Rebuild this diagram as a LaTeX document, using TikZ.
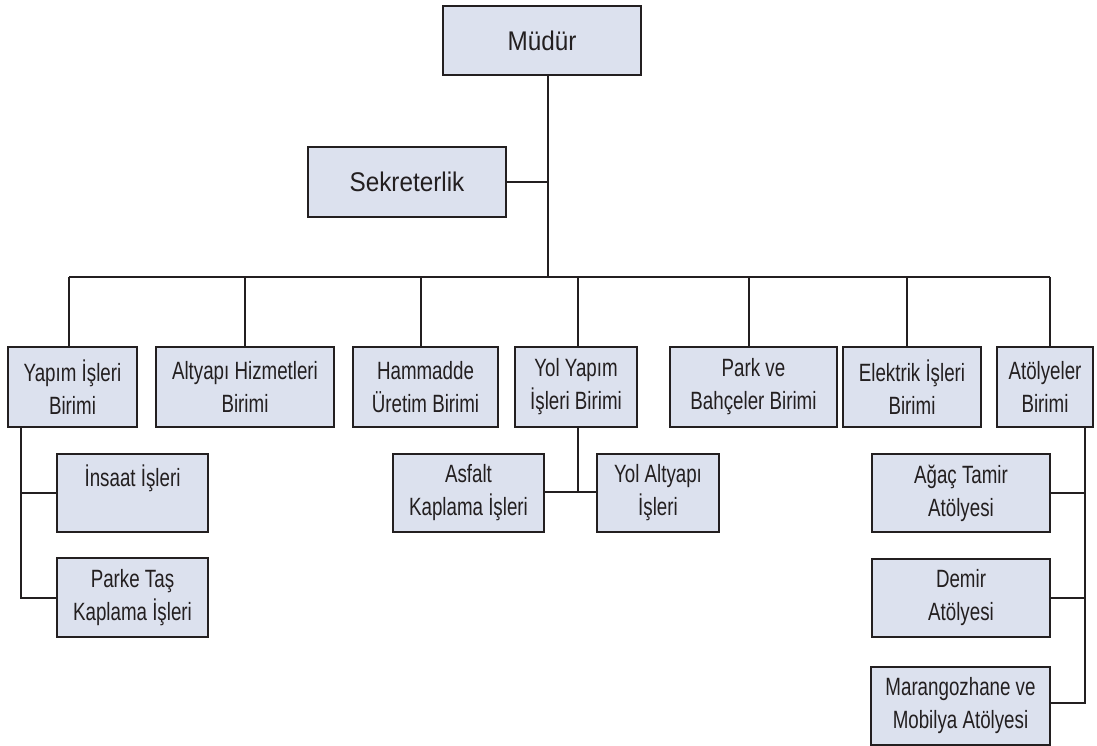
\documentclass[tikz,border=0pt]{standalone}
\usepackage{fontspec}
\setmainfont{Liberation Sans}
\newfontfamily\condfont[FakeStretch=0.75]{Liberation Sans}
\newfontfamily\topfont[FakeStretch=0.9]{Liberation Sans}
\definecolor{boxfill}{HTML}{DCE1EE}
\definecolor{boxline}{HTML}{231F20}
\begin{document}
\begin{tikzpicture}[x=1pt,y=-1pt,
  orgbox/.style={draw=boxline, line width=2pt, fill=boxfill, inner sep=0pt, align=center,
    text=boxline, font=\condfont\fontsize{25}{33}\selectfont},
  topbox/.style={orgbox, font=\topfont\fontsize{27}{33}\selectfont},
  link/.style={draw=boxline, line width=2pt}]
\useasboundingbox (0,0) rectangle (1097,746);
% top level
\node[topbox, minimum width=198pt, minimum height=69pt] (mudur) at (542,40.5) {Müdür};
\node[topbox, minimum width=198pt, minimum height=70pt] (sekr) at (407,182) {Sekreterlik};
% units
\node[orgbox, minimum width=129pt, minimum height=80pt] (yapim) at (72.5,387) {Yapım İşleri\\Birimi};
\node[orgbox, minimum width=178pt, minimum height=80pt] (altyapi) at (245,387) {Altyapı Hizmetleri\\Birimi};
\node[orgbox, minimum width=145pt, minimum height=80pt] (hammadde) at (425.5,387) {Hammadde\\Üretim Birimi};
\node[orgbox, minimum width=122pt, minimum height=80pt] (yolyapim) at (576,387) {Yol Yapım\\İşleri Birimi};
\node[orgbox, minimum width=167pt, minimum height=80pt] (park) at (753.5,387) {Park ve\\Bahçeler Birimi};
\node[orgbox, minimum width=138pt, minimum height=80pt] (elektrik) at (912,387) {Elektrik İşleri\\Birimi};
\node[orgbox, minimum width=96pt, minimum height=80pt] (atolye) at (1045,387) {Atölyeler\\Birimi};
% sub units
\node[orgbox, minimum width=151pt, minimum height=78pt] (insaat) at (132.5,493) {};
\node[font=\condfont\fontsize{25}{33}\selectfont, text=boxline, anchor=center] (insaattxt) at (132.5,478) {İnsaat İşleri};
\node[orgbox, minimum width=151pt, minimum height=79pt] (parke) at (132.5,597.5) {Parke Taş\\Kaplama İşleri};
\node[orgbox, minimum width=151pt, minimum height=78pt] (asfalt) at (468.5,493) {Asfalt\\Kaplama İşleri};
\node[orgbox, minimum width=122pt, minimum height=78pt] (yolalt) at (658,493) {Yol Altyapı\\İşleri};
\node[orgbox, minimum width=178pt, minimum height=78pt] (agac) at (961,493) {Ağaç Tamir\\Atölyesi};
\node[orgbox, minimum width=178pt, minimum height=78pt] (demir) at (961,598) {Demir\\Atölyesi};
\node[orgbox, minimum width=179pt, minimum height=78pt] (marangoz) at (960.5,706) {Marangozhane ve\\Mobilya Atölyesi};
% bus coordinates
\coordinate (busC) at (548,277);
\coordinate (busL) at (69,277);
\coordinate (busR) at (1050,277);
\coordinate (yapimV) at (21,427);
\coordinate (atolyeV) at (1085,427);
\coordinate (yolV) at (578,427);
% connectors
\draw[link] ([xshift=6pt]mudur.south) -- ([xshift=6pt]mudur.south |- busC);
\draw[link] (sekr.east) -- (sekr.east -| busC);
\draw[link] (busL) -- (busR);
\draw[link] (busL) -- (yapim.north -| busL);
\draw[link] (altyapi.north) -- (altyapi.north |- busL);
\draw[link] ([xshift=-4.5pt]hammadde.north) -- ([xshift=-4.5pt]hammadde.north |- busL);
\draw[link] ([xshift=2pt]yolyapim.north) -- ([xshift=2pt]yolyapim.north |- busL);
\draw[link] ([xshift=-4.5pt]park.north) -- ([xshift=-4.5pt]park.north |- busL);
\draw[link] ([xshift=-5pt]elektrik.north) -- ([xshift=-5pt]elektrik.north |- busL);
\draw[link] (busR) -- (atolye.north -| busR);
% Yapim sub
\draw[link] (yapim.south -| yapimV) -- (parke.west -| yapimV) -- (parke.west);
\draw[link] (insaat.west -| yapimV) -- (insaat.west);
% Yol sub
\draw[link] (yolyapim.south -| yolV) -- ([yshift=1pt]asfalt.east -| yolV);
\draw[link] ([yshift=1pt]asfalt.east) -- ([yshift=1pt]yolalt.west);
% Atolye sub
\draw[link] (atolye.south -| atolyeV) -- ([yshift=3pt]marangoz.east -| atolyeV) -- ([yshift=3pt]marangoz.east);
\draw[link] (agac.east) -- (agac.east -| atolyeV);
\draw[link] (demir.east) -- (demir.east -| atolyeV);
\end{tikzpicture}
\end{document}
